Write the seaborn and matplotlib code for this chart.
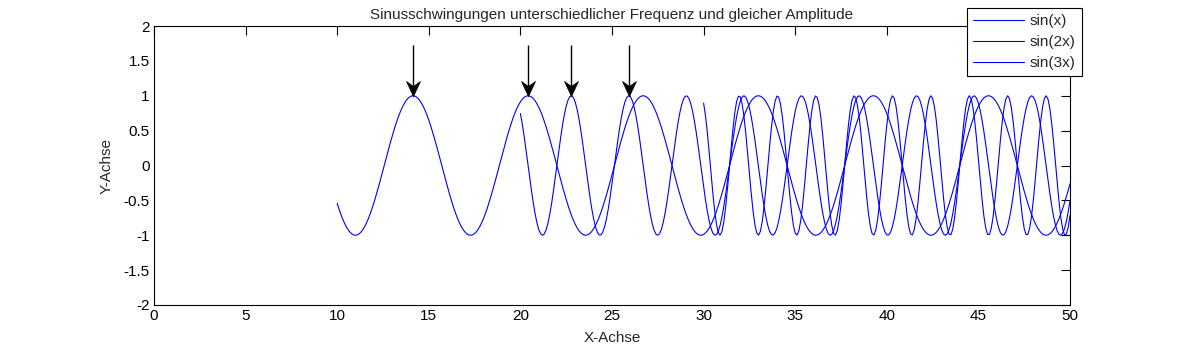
import numpy as np
import pandas as pd
import matplotlib
matplotlib.use("Agg")
import matplotlib.pyplot as plt
from matplotlib.path import Path
from matplotlib.lines import Line2D
import seaborn as sns

# ---- data ----
labels = ["sin(x)", "sin(2x)", "sin(3x)"]
frequencies = [1, 2, 3]
x_starts = [10, 20, 30]
x_end = 50
x_step = 0.1
arrow_x = [14.14, 20.42, 22.78, 25.92]
arrow_y_tail = 1.73
arrow_y_head = 1.0
x_ticks = [0, 5, 10, 15, 20, 25, 30, 35, 40, 45, 50]
y_ticks = [-2, -1.5, -1, -0.5, 0, 0.5, 1, 1.5, 2]
y_tick_labels = ["-2", "-1.5", "-1", "-0.5", "0", "0.5", "1", "1.5", "2"]

frames = []
for lab, f, xs in zip(labels, frequencies, x_starts):
    x = np.arange(xs, x_end + 1e-9, x_step)
    frames.append(pd.DataFrame({"x": x, "y": np.sin(f * x), "series": lab}))
df = pd.concat(frames, ignore_index=True)

sns.set_style("white")
plt.rcParams["font.family"] = ["Liberation Sans", "DejaVu Sans"]

fig = plt.figure(figsize=(11.82, 3.5), dpi=100)
ax = fig.add_axes([154 / 1182, 1 - 305 / 350, (1070 - 154) / 1182, (305 - 26) / 350])

sns.lineplot(data=df, x="x", y="y", hue="series", palette=["#0000ff"] * 3,
             linewidth=0.8, ax=ax, legend=False, sort=False, estimator=None)

# swept-back arrow head marker, tip at origin, pointing down
head = Path([(0, 0), (-7, 15), (0, 10), (7, 15), (0, 0)],
            [Path.MOVETO, Path.LINETO, Path.LINETO, Path.LINETO, Path.CLOSEPOLY])
for xa in arrow_x:
    ax.plot([xa, xa], [arrow_y_tail, arrow_y_head], color="black", lw=1.0,
            solid_capstyle="butt")
    ax.plot([xa], [arrow_y_head], marker=head, markersize=21.6,
            color="black", markeredgewidth=0.5, linestyle="none")

ax.set_xlim(0, 50)
ax.set_ylim(-2, 2)
ax.set_xticks(x_ticks)
ax.set_xticklabels([str(t) for t in x_ticks])
ax.set_yticks(y_ticks)
ax.set_yticklabels(y_tick_labels)
ax.tick_params(direction="in", length=6.5, width=0.8, top=True, right=True,
               labelsize=11, colors="black", pad=3)
for s in ax.spines.values():
    s.set_color("black")
    s.set_linewidth(0.8)
    s.set_visible(True)

ax.set_title("Sinusschwingungen unterschiedlicher Frequenz und gleicher Amplitude",
             fontsize=11, pad=5)
ax.set_xlabel("X-Achse", fontsize=11, labelpad=6)
ax.set_ylabel("Y-Achse", fontsize=11, labelpad=7)

handles = [Line2D([0], [0], color="#0000ff", lw=0.8) for _ in labels]
leg = fig.legend(handles, labels, loc="upper right",
                 bbox_to_anchor=(1082 / 1182, 1 - 8 / 350),
                 fontsize=11, frameon=True, fancybox=False, framealpha=1,
                 edgecolor="black", handlelength=3.3, handletextpad=0.4,
                 labelspacing=0.45, borderpad=0.4, borderaxespad=0)
leg.get_frame().set_linewidth(0.8)

fig.savefig("out.png", dpi=100)
